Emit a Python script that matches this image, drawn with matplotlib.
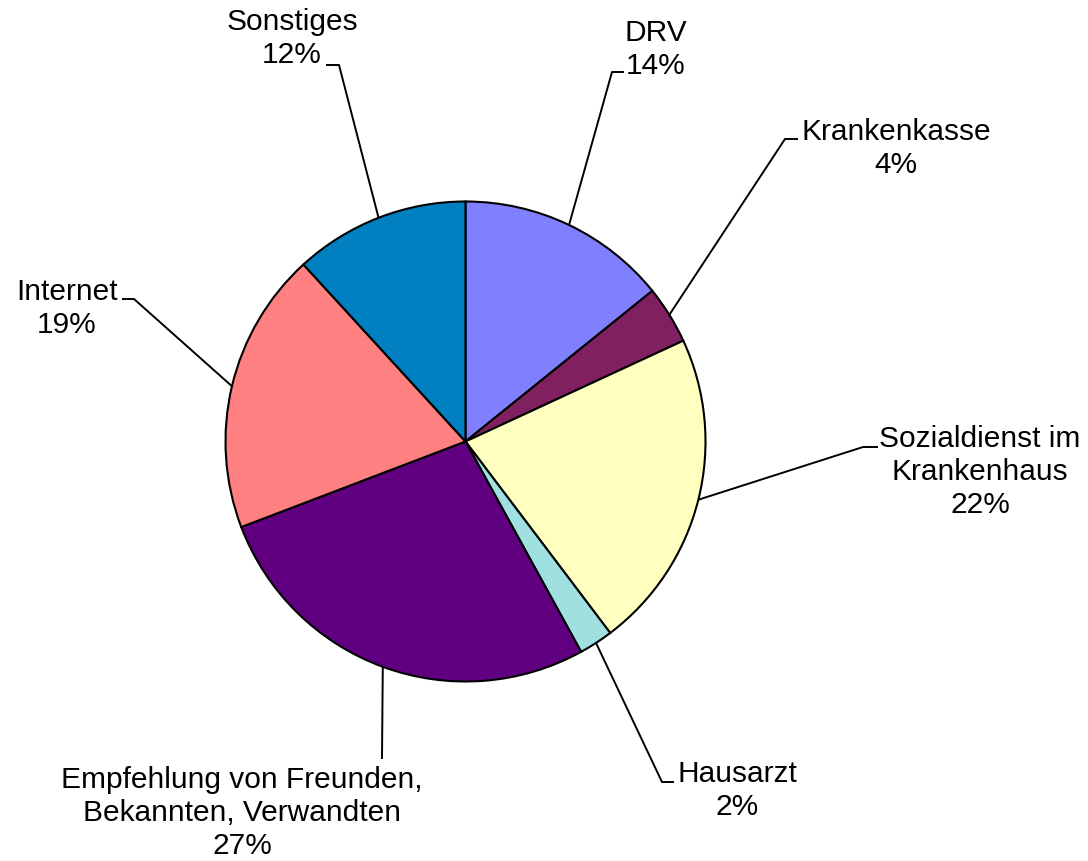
import numpy as np
import matplotlib.pyplot as plt

plt.rcParams['font.family'] = ['Liberation Sans', 'DejaVu Sans']

labels = ['DRV', 'Krankenkasse', 'Sozialdienst im\nKrankenhaus', 'Hausarzt',
          'Empfehlung von Freunden,\nBekannten, Verwandten', 'Internet', 'Sonstiges']
values = [14.2, 3.9, 21.6, 2.3, 27.2, 19.0, 11.8]
colors = ['#8080FF', '#802060', '#FFFFC0', '#A0E0E0', '#600080', '#FF8080', '#0080C0']

# layout in canvas pixels: pie centre/radius, label anchor (centre x, last baseline),
# leader elbow and leader end next to the text
cx, cy, r = 465.5, 441.5, 240
text_px = [(656, 74), (896, 173), (980, 513), (737, 815), (242, 854), (67, 333), (292, 63)]
elbow_px = [(612, 72), (785, 139), (863, 447), (662, 782), (382, 758), (134, 299), (339, 65)]
end_px = [(623, 72), (797, 139), (877, 447), (673, 782), (382, 758), (123, 299), (327, 65)]


def to_data(p):
    return (p[0] - cx) / r, (cy - p[1]) / r


fig = plt.figure(figsize=(10.88, 8.61), dpi=100)
ax = fig.add_axes([0, 0, 1, 1])

wedges, _ = ax.pie(values, colors=colors, startangle=90, counterclock=False, radius=1,
                   wedgeprops=dict(edgecolor='black', linewidth=1.5))

for w, lab, v, tp, ep, op in zip(wedges, labels, values, text_px, elbow_px, end_px):
    mid = np.deg2rad((w.theta1 + w.theta2) / 2)
    sx, sy = np.cos(mid), np.sin(mid)
    ex, ey = to_data(ep)
    ox, oy = to_data(op)
    ax.plot([sx, ex, ox], [sy, ey, oy], color='black', lw=1.4, zorder=0)
    tx, ty = to_data(tp)
    ax.text(tx, ty, f'{lab}\n{v:.0f}%', ha='center', va='baseline',
            multialignment='center', fontsize=21.5, linespacing=1.22)

ax.set_xlim(-cx / r, (1088 - cx) / r)
ax.set_ylim((cy - 861) / r, cy / r)
ax.set_aspect('equal')
ax.axis('off')

plt.savefig('out.png')
